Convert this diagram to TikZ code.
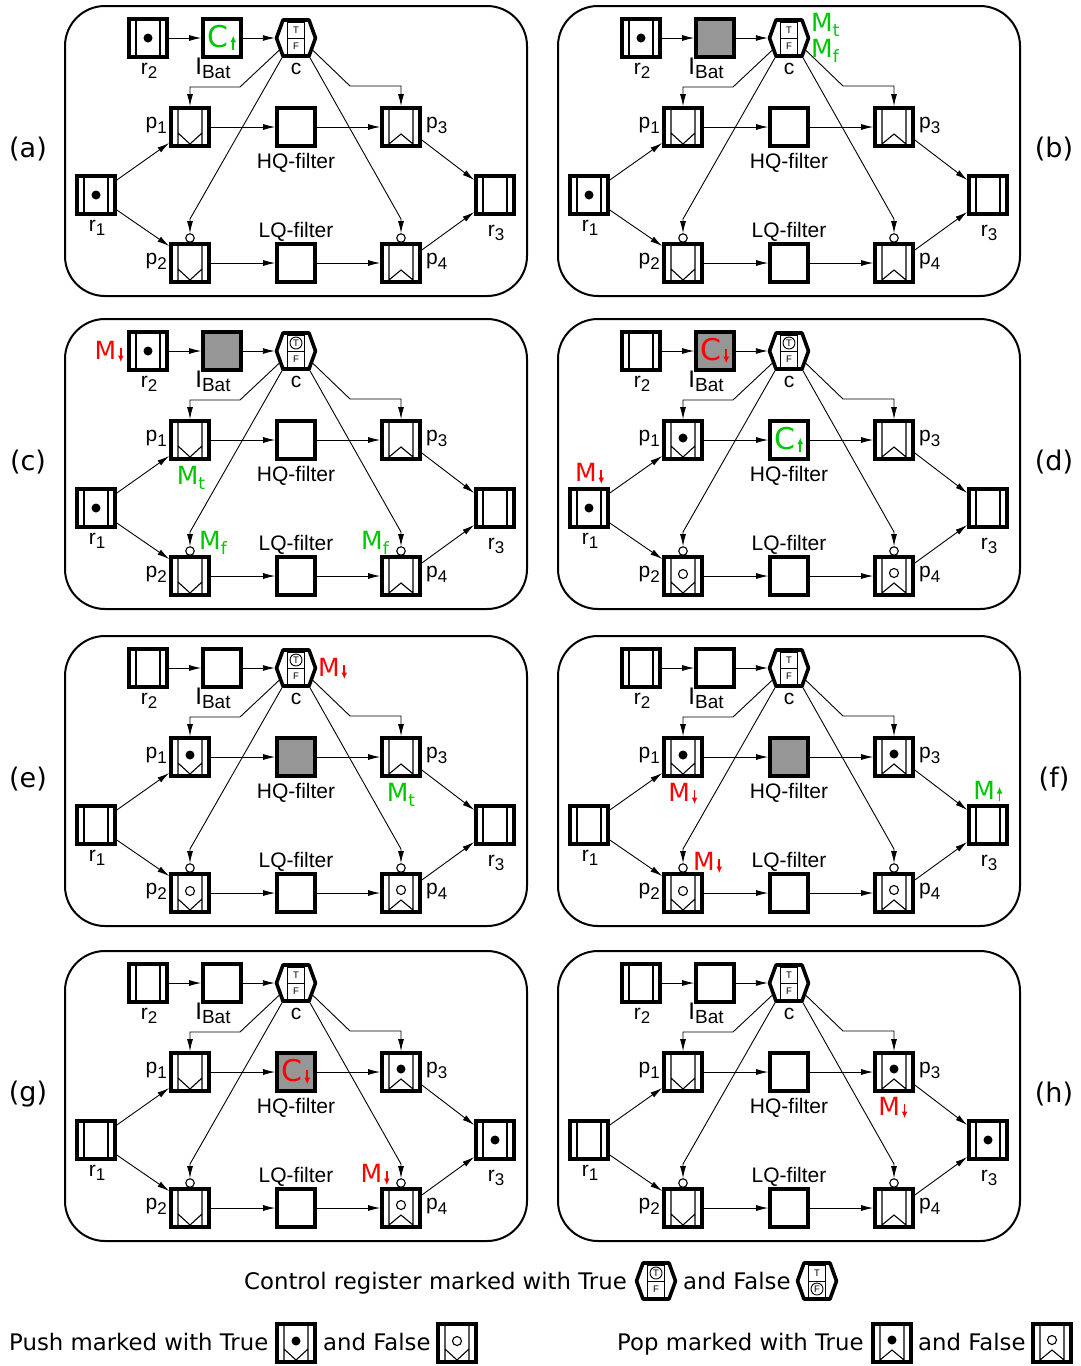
\documentclass[tikz,border=0pt]{standalone}
\usepackage{fontspec}
\setmainfont{Liberation Sans}
\newfontfamily\djv{DejaVu Sans}
\usetikzlibrary{arrows.meta}
\definecolor{gfill}{RGB}{150,150,150}
\definecolor{mgreen}{RGB}{0,200,0}
\definecolor{mred}{RGB}{255,0,0}

\newcommand\sub[1]{\raisebox{-4.5pt}{\fontsize{17}{17}\selectfont #1}}
\newcommand\Isub[1]{{\fontsize{24}{24}\selectfont I}\raisebox{-4.5pt}{\fontsize{19}{19}\selectfont #1}}
\newcommand\dnar[1]{\hspace{1.5pt}\tikz[reset cm,baseline=0pt,x=1pt,y=1pt]\draw[#1,line width=1.6pt,-{Latex[length=6.5pt,width=6pt]}] (0,11) -- (0,-3);}
\newcommand\upar[1]{\hspace{1.5pt}\tikz[reset cm,baseline=0pt,x=1pt,y=1pt]\draw[#1,line width=1.6pt,-{Latex[length=6.5pt,width=6pt]}] (0,-2) -- (0,12);}
\newcommand\Msub[1]{M\raisebox{-5pt}{\fontsize{17}{17}\selectfont #1}}

\tikzset{
 cell/.style={draw, line width=3.6pt, minimum size=38pt, inner sep=0pt, fill=white},
 hexf/.style={line width=3.6pt, line join=round},
 thinl/.style={line width=1.1pt},
 conn/.style={line width=0.9pt},
 arr/.style={conn, -{Latex[length=12pt,width=6pt]}},
 lbl/.style={font=\fontsize{21}{24}\selectfont, inner sep=0pt},
 tf/.style={font=\fontsize{9.5}{9.5}\selectfont, inner sep=0pt},
 panelbox/.style={draw, line width=2pt, rounded corners=40pt, minimum width=462pt, minimum height=290pt, inner sep=0pt},
 plab/.style={font=\djv\fontsize{27}{30}\selectfont, inner sep=0pt},
 legtext/.style={font=\djv\fontsize{22.8}{26}\selectfont, inner sep=0pt},
 smallo/.style={circle, draw, line width=1.1pt, minimum size=8.5pt, inner sep=0pt, fill=white},
 mk/.style={inner sep=0pt, font=\djv\fontsize{25}{28}\selectfont},
 mkC/.style={inner sep=0pt, font=\djv\fontsize{30}{32}\selectfont},
}

\pgfkeys{/pn/.cd,
 rtwo/.store in=\pnRtwo, rone/.store in=\pnRone, rthree/.store in=\pnRthree,
 ibat/.store in=\pnIbat, c/.store in=\pnC, pone/.store in=\pnPone, ptwo/.store in=\pnPtwo,
 pthree/.store in=\pnPthree, pfour/.store in=\pnPfour, hq/.store in=\pnHQ}

% register
\newcommand\RegE[4]{%
 \node[cell] (#1) at (#2,#3) {};
 \begin{scope}[shift={(#2,#3)}]
  \draw[thinl] (-12,-17) -- (-12,17) (12,-17) -- (12,17);
  \ifnum#4=1 \fill (0,0) circle[radius=4.5pt];\fi
 \end{scope}}
% plain box
\newcommand\BoxE[4]{\node[cell, fill=#4] (#1) at (#2,#3) {};}
% push
\newcommand\PushE[4]{%
 \node[cell] (#1) at (#2,#3) {};
 \begin{scope}[shift={(#2,#3)}]
  \draw[thinl] (-12,-17) -- (-12,17) (12,-17) -- (12,17) (-12,6) -- (0,17) -- (12,6);
  \ifnum#4=1 \fill (0,-2) circle[radius=4.5pt];\fi
  \ifnum#4=2 \draw[thinl] (0,-2) circle[radius=4.5pt];\fi
 \end{scope}}
% pop
\newcommand\PopE[4]{%
 \node[cell] (#1) at (#2,#3) {};
 \begin{scope}[shift={(#2,#3)}]
  \draw[thinl] (-12,-17) -- (-12,17) (12,-17) -- (12,17) (-12,17) -- (0,7) -- (12,17);
  \ifnum#4=1 \fill (0,-3) circle[radius=4.5pt];\fi
  \ifnum#4=2 \draw[thinl] (0,-3) circle[radius=4.5pt];\fi
 \end{scope}}
% control register
\newcommand\HexE[4]{%
 \node[minimum width=42pt, minimum height=38pt, inner sep=0pt] (#1) at (#2,#3) {};
 \begin{scope}[shift={(#2,#3)}]
  \draw[hexf] (-19.5,0) -- (-13,-18) -- (13,-18) -- (19.5,0) -- (13,18) -- (-13,18) -- cycle;
  \draw[line width=0.9pt] (-8.5,-16) rectangle (8.5,16) (-8.5,0) -- (8.5,0);
  \node[tf] (#1T) at (0,-8) {T};
  \node[tf] (#1F) at (0,8) {F};
  \ifnum#4=1 \draw[line width=0.9pt] (0,-8) circle[radius=6pt];\fi
  \ifnum#4=2 \draw[line width=0.9pt] (0,8) circle[radius=6pt];\fi
  \coordinate (#1L) at (-15.5,11);
  \coordinate (#1R) at (15.5,11);
  \coordinate (#1BL) at (-13,18);
  \coordinate (#1BR) at (13,18);
 \end{scope}}

\newcommand\Panel[5]{%
 \pgfkeys{/pn/.cd, rtwo=0, rone=0, rthree=0, ibat=0, c=0, pone=0, ptwo=0, pthree=0, pfour=0, hq=0, #4}%
 \ifnum\pnIbat=1 \def\pnIbfill{gfill}\else\def\pnIbfill{white}\fi
 \ifnum\pnHQ=1 \def\pnHQfill{gfill}\else\def\pnHQfill{white}\fi
 \begin{scope}[shift={(#2,#3)}]
  \node[panelbox] (#1box) at (296,151) {};
  \RegE{#1r2}{148}{38}{\pnRtwo}
  \BoxE{#1ib}{222}{38}{\pnIbfill}
  \HexE{#1c}{296}{38}{\pnC}
  \PushE{#1p1}{190}{127}{\pnPone}
  \BoxE{#1hq}{296}{127}{\pnHQfill}
  \PopE{#1p3}{401}{127}{\pnPthree}
  \RegE{#1r1}{96}{195}{\pnRone}
  \RegE{#1r3}{495}{195}{\pnRthree}
  \PushE{#1p2}{190}{263}{\pnPtwo}
  \BoxE{#1lq}{296}{263}{white}
  \PopE{#1p4}{401}{263}{\pnPfour}
  \node[smallo] (#1o2) at (190,238) {};
  \node[smallo] (#1o4) at (401,238) {};
  % labels
  \node[lbl, anchor=base] (#1r2l) at (149,74) {r\sub{2}};
  \node[lbl, anchor=base] (#1ibl) at (213,74) {\Isub{Bat}};
  \node[lbl, anchor=base] (#1cl) at (296,74) {c};
  \node[lbl, anchor=mid east] (#1p1l) at (167,126) {p\sub{1}};
  \node[lbl, anchor=mid west] (#1p3l) at (426,126) {p\sub{3}};
  \node[lbl, anchor=mid east] (#1p2l) at (167,262) {p\sub{2}};
  \node[lbl, anchor=mid west] (#1p4l) at (426,262) {p\sub{4}};
  \node[lbl, anchor=base] (#1hql) at (296,168.5) {HQ-filter};
  \node[lbl, anchor=base] (#1lql) at (296,237.5) {LQ-filter};
  \node[lbl, anchor=base] (#1r1l) at (97,231) {r\sub{1}};
  \node[lbl, anchor=base] (#1r3l) at (496,236) {r\sub{3}};
  % connectors
  \draw[arr] (#1r2) -- (#1ib);
  \draw[arr] (#1ib) -- (#1c);
  \draw[arr] (#1p1) -- (#1hq);
  \draw[arr] (#1hq) -- (#1p3);
  \draw[arr] (#1p2) -- (#1lq);
  \draw[arr] (#1lq) -- (#1p4);
  \draw[arr] ([yshift=15pt]#1r1.east) -- ([yshift=-16pt]#1p1.west);
  \draw[arr] ([yshift=-15pt]#1r1.east) -- ([yshift=17pt]#1p2.west);
  \draw[arr] ([yshift=-13pt]#1p3.east) -- ([yshift=15pt]#1r3.west);
  \draw[arr] ([yshift=13pt]#1p4.east) -- ([yshift=-17pt]#1r3.west);
  \draw[arr] (#1cL) -- (240,87) -| (#1p1.north);
  \draw[arr] (#1cR) -- (350,86) -| (#1p3.north);
  \draw[arr] (#1cBL) -- (190,219) -- (#1o2.north);
  \draw[arr] (#1cBR) -- (401,219) -- (#1o4.north);
  #5
 \end{scope}}

\begin{document}
\begin{tikzpicture}[x=1pt,y=-1pt]
\useasboundingbox (0,0) rectangle (1081,1366);
\fill[white] (0,0) rectangle (1081,1366);

% (a)
\Panel{a}{0}{0}{rtwo=1, rone=1}{%
 \node[mkC, text=mgreen] (aCup) at (222,38) {C\upar{mgreen}};}
% (b)
\Panel{b}{493}{0}{rtwo=1, ibat=1, rone=1}{%
 \node[mk, text=mgreen, anchor=base west] (bMt) at (318,31) {\Msub{t}};
 \node[mk, text=mgreen, anchor=base west] (bMf) at (318,57) {\Msub{f}};}
% (c)
\Panel{c}{0}{313}{rtwo=1, ibat=1, c=1, rone=1}{%
 \node[mk, text=mred, anchor=base east] (cMd) at (124,46) {M\dnar{mred}};
 \node[mk, text=mgreen, anchor=base] (cMt) at (191,171) {\Msub{t}};
 \node[mk, text=mgreen, anchor=base west] (cMf1) at (199,236) {\Msub{f}};
 \node[mk, text=mgreen, anchor=base east] (cMf2) at (389,236) {\Msub{f}};}
% (d)
\Panel{d}{493}{313}{ibat=1, c=1, pone=1, rone=1, ptwo=2, pfour=2}{%
 \node[mkC, text=mred] (dCdn) at (222,38) {C\dnar{mred}};
 \node[mkC, text=mgreen] (dCup) at (296,127) {C\upar{mgreen}};
 \node[mk, text=mred, anchor=base west] (dMd) at (82,168) {M\dnar{mred}};}
% (e)
\Panel{e}{0}{630}{c=1, pone=1, hq=1, ptwo=2, pfour=2}{%
 \node[mk, text=mred, anchor=base west] (eMd) at (318,46) {M\dnar{mred}};
 \node[mk, text=mgreen, anchor=base] (eMt) at (401,171) {\Msub{t}};}
% (f)
\Panel{f}{493}{630}{pone=1, hq=1, pthree=1, ptwo=2, pfour=2}{%
 \node[mk, text=mred, anchor=base] (fMd1) at (190,171) {M\dnar{mred}};
 \node[mk, text=mgreen, anchor=base] (fMu) at (495,169) {M\upar{mgreen}};
 \node[mk, text=mred, anchor=base west] (fMd2) at (200,240) {M\dnar{mred}};}
% (g)
\Panel{g}{0}{945}{hq=1, pthree=1, rthree=1, pfour=2}{%
 \node[mkC, text=mred] (gCdn) at (296,127) {C\dnar{mred}};
 \node[mk, text=mred, anchor=base east] (gMd) at (390,237) {M\dnar{mred}};}
% (h)
\Panel{h}{493}{945}{pthree=1, rthree=1}{%
 \node[mk, text=mred, anchor=base] (hMd) at (400,170) {M\dnar{mred}};}

% panel letters
\node[plab] (la) at (28,149) {(a)};
\node[plab] (lb) at (1054,149) {(b)};
\node[plab] (lc) at (28,462) {(c)};
\node[plab] (ld) at (1054,462) {(d)};
\node[plab] (le) at (28,779) {(e)};
\node[plab] (lf) at (1054,779) {(f)};
\node[plab] (lg) at (28,1094) {(g)};
\node[plab] (lh) at (1054,1094) {(h)};

% legend
\node[legtext, anchor=base east] (leg1) at (627,1289) {Control register marked with True};
\HexE{legT}{656}{1281}{1}
\node[legtext, anchor=base west] (leg2) at (683,1289) {and False};
\HexE{legF}{817}{1281}{2}
\node[legtext, anchor=base west] (leg3) at (9,1350) {Push marked with True};
\PushE{legPuT}{296}{1343}{1}
\node[legtext, anchor=base west] (leg4) at (323,1350) {and False};
\PushE{legPuF}{457}{1343}{2}
\node[legtext, anchor=base west] (leg5) at (617,1350) {Pop marked with True};
\PopE{legPoT}{892}{1343}{1}
\node[legtext, anchor=base west] (leg6) at (918,1350) {and False};
\PopE{legPoF}{1052}{1343}{2}
\end{tikzpicture}
\end{document}
